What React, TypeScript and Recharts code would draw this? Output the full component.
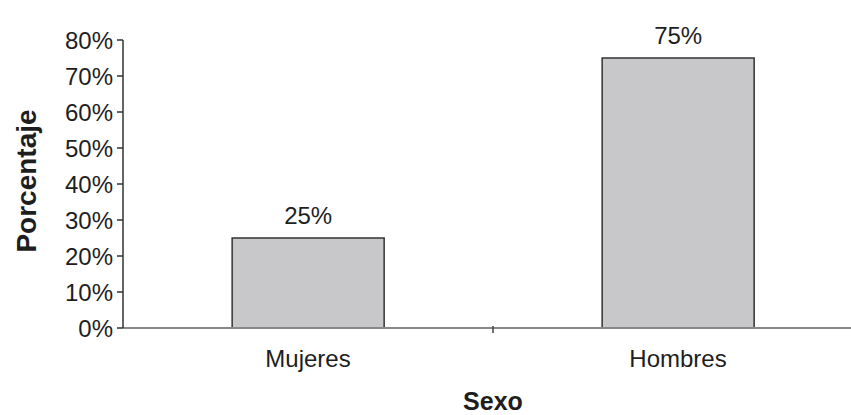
import React from 'react';
import { BarChart, Bar, XAxis, YAxis, LabelList } from 'recharts';

const categories = ['Mujeres', 'Hombres'];
const percentages = [25, 75];
const yTicks = [0, 10, 20, 30, 40, 50, 60, 70, 80];

const data = categories.map((c, i) => ({ sexo: c, pct: percentages[i] }));

const FONT = '"Liberation Sans", Arial, sans-serif';
const TEXT = '#1e1e1e';

const XTick = (props: any) => {
  const { x, y, payload, index, width, visibleTicksCount } = props;
  const band = width / visibleTicksCount;
  const axisY = y - 22;
  return (
    <g>
      <text
        x={x}
        y={y}
        dy="0.71em"
        textAnchor="middle"
        fontFamily={FONT}
        fontSize={24}
        fill={TEXT}
      >
        {payload.value}
      </text>
      {index < visibleTicksCount - 1 && (
        <line x1={x + band / 2} x2={x + band / 2} y1={axisY - 2} y2={axisY + 5} stroke="#444" strokeWidth={1.5} />
      )}
    </g>
  );
};

const YLabel = (props: any) => {
  const vb = props.viewBox || {};
  const cx = vb.x + 36;
  const cy = vb.y + vb.height / 2 - 3;
  return (
    <text
      x={cx}
      y={cy}
      transform={`rotate(-90, ${cx}, ${cy})`}
      textAnchor="middle"
      fontFamily={FONT}
      fontWeight="bold"
      fontSize={28}
      fill={TEXT}
    >
      Porcentaje
    </text>
  );
};

export default function App() {
  return (
    <div style={{ position: 'absolute', left: 0, top: 0, width: 851, height: 415, overflow: 'hidden', background: '#fff' }}>
      <BarChart
        width={863}
        height={415}
        data={data}
        margin={{ top: 40, right: 0, bottom: 0, left: 0 }}
        barCategoryGap="29.5%"
      >
        <XAxis
          dataKey="sexo"
          height={87}
          axisLine={{ stroke: '#888', strokeWidth: 2 }}
          tickLine={false}
          tickSize={0}
          tickMargin={22}
          tick={<XTick />}
          interval={0}
          label={{
            value: 'Sexo',
            position: 'insideBottom',
            offset: 5,
            style: { fontFamily: FONT, fontWeight: 'bold', fontSize: 25, fill: TEXT },
          }}
        />
        <YAxis
          width={123}
          domain={[0, 80]}
          ticks={yTicks}
          interval={0}
          axisLine={{ stroke: '#333', strokeWidth: 1.5 }}
          tickLine={{ stroke: '#333', strokeWidth: 1.5 }}
          tickSize={6}
          tickMargin={4}
          tickFormatter={(v: number) => `${v}%`}
          tick={{ fontFamily: FONT, fontSize: 24, fill: TEXT }}
          label={<YLabel />}
        />
        <Bar dataKey="pct" fill="#c8c8ca" stroke="#333" strokeWidth={1.5} isAnimationActive={false}>
          <LabelList
            dataKey="pct"
            position="top"
            offset={14}
            formatter={(v: any) => `${v}%`}
            style={{ fontFamily: FONT, fontSize: 24, fill: TEXT }}
          />
        </Bar>
      </BarChart>
    </div>
  );
}
